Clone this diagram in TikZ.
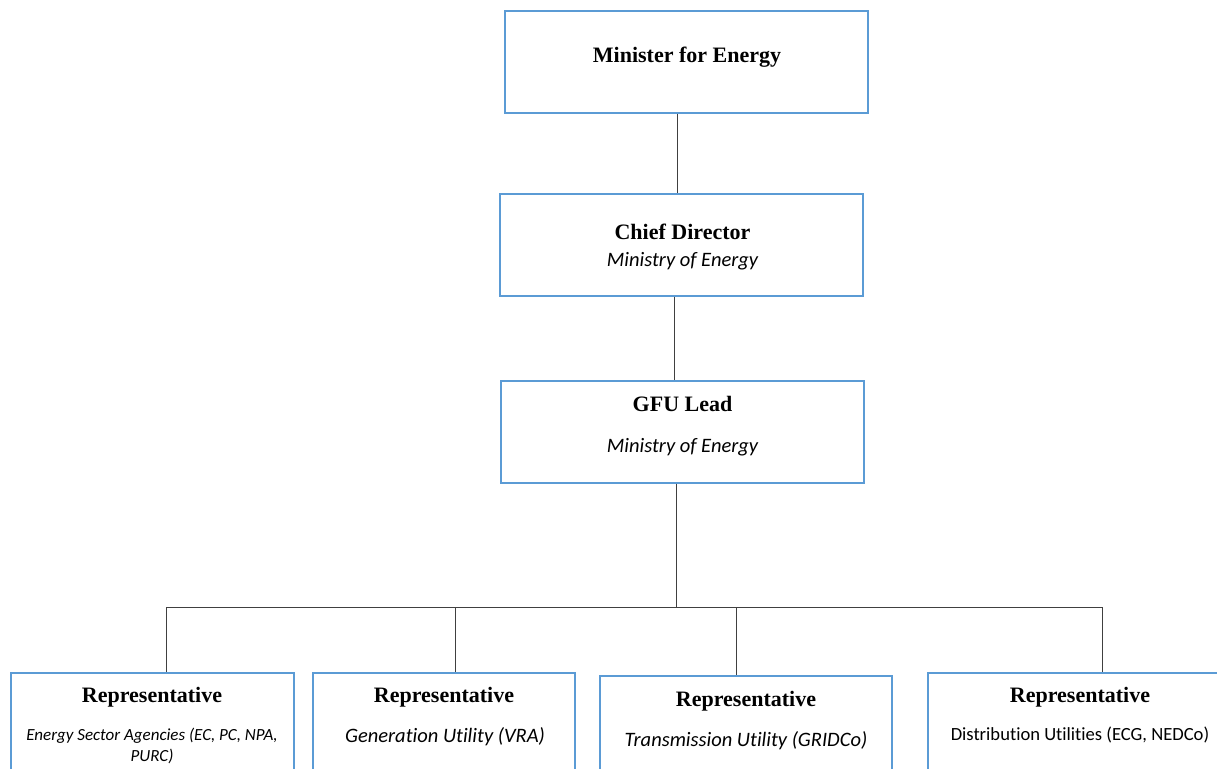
\documentclass[tikz,border=0pt]{standalone}
\usepackage{fontspec}
\setmainfont{Liberation Serif}
\newfontfamily\calfont[Ligatures=NoCommon]{Carlito}
\definecolor{boxblue}{HTML}{5B9BD5}
\definecolor{linegray}{HTML}{404040}
\begin{document}
\begin{tikzpicture}[x=1pt,y=-1pt,
  box/.style={draw=boxblue, line width=1.3pt, rectangle, inner sep=0pt},
  conn/.style={draw=linegray, line width=0.9pt},
  title/.style={font=\fontsize{22}{26}\selectfont\bfseries, anchor=base, inner sep=0pt},
  sub/.style={font=\calfont\itshape\fontsize{20.5}{24}\selectfont, anchor=base, inner sep=0pt},
  subsmall/.style={font=\calfont\itshape\fontsize{17}{20}\selectfont, anchor=base, inner sep=0pt},
  subup/.style={font=\calfont\fontsize{18.6}{22}\selectfont, anchor=base, inner sep=0pt}]
\useasboundingbox (0,0) rectangle (1217,768);
\clip (0,0) rectangle (1217,768);
% boxes
\node[box, minimum width=363pt, minimum height=102pt] (min) at (686.5,62) {};
\node[box, minimum width=363pt, minimum height=102pt] (cd) at (681.5,245) {};
\node[box, minimum width=363pt, minimum height=102pt] (gfu) at (682.5,432) {};
\node[box, minimum width=283pt, minimum height=117pt] (r1) at (152.5,731.5) {};
\node[box, minimum width=262pt, minimum height=117pt] (r2) at (444,731.5) {};
\node[box, minimum width=292pt, minimum height=114pt] (r3) at (746,733) {};
\node[box, minimum width=304pt, minimum height=117pt] (r4) at (1080,731.5) {};
% texts
\node[title] (minT) at (687,63) {Minister for Energy};
\node[title] (cdT) at (682.5,239) {Chief Director};
\node[sub] (cdS) at (682.5,266) {Ministry of Energy};
\node[title] (gfuT) at (682.5,411) {GFU Lead};
\node[sub] (gfuS) at (682.5,452) {Ministry of Energy};
\node[title] (r1T) at (152,702) {Representative};
\node[subsmall] (r1Sa) at (152,740) {Energy Sector Agencies (EC, PC, NPA,};
\node[subsmall] (r1Sb) at (152,761) {PURC)};
\node[title] (r2T) at (444,702) {Representative};
\node[sub] (r2S) at (445,742) {Generation Utility (VRA)};
\node[title] (r3T) at (746,706) {Representative};
\node[sub] (r3S) at (746,746) {Transmission Utility (GRIDCo)};
\node[title] (r4T) at (1080,702) {Representative};
\node[subup] (r4S) at (1080,740) {Distribution Utilities (ECG, NEDCo)};
% connectors
\coordinate (bus) at (676,607);
\coordinate (busL) at (166,607);
\coordinate (b2) at (455,607);
\coordinate (b3) at (736,607);
\coordinate (busR) at (1102,607);
\draw[conn] ([xshift=-9.5pt]min.south) -- ([xshift=-4.5pt]cd.north);
\draw[conn] ([xshift=-7.5pt]cd.south) -- ([xshift=-8.5pt]gfu.north);
\draw[conn] ([xshift=-6.5pt]gfu.south) -- (bus);
\draw[conn] (busL) -- (busR);
\draw[conn] (busL) -- (busL |- r1.north);
\draw[conn] (b2) -- (b2 |- r2.north);
\draw[conn] (b3) -- (b3 |- r3.north);
\draw[conn] (busR) -- (busR |- r4.north);
\end{tikzpicture}
\end{document}
